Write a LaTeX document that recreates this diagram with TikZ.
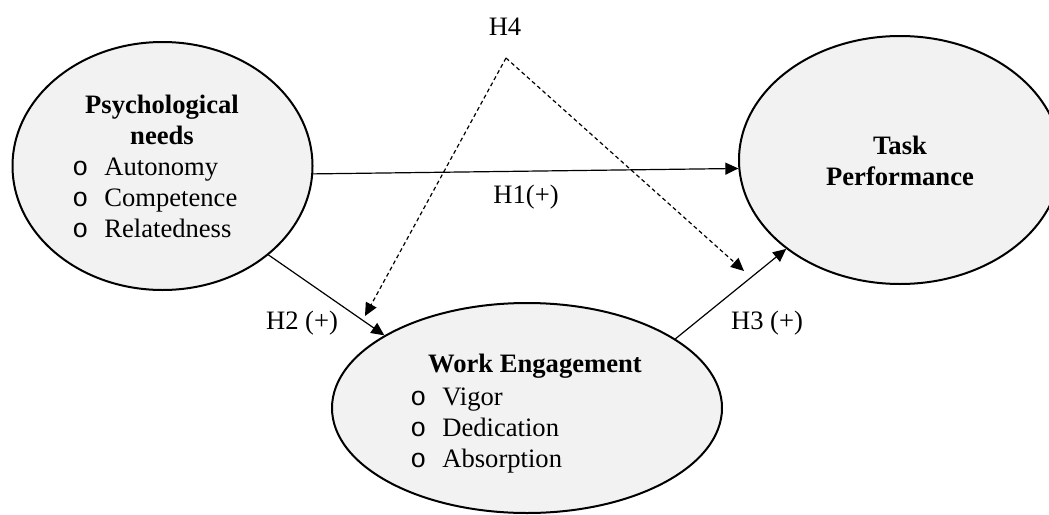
\documentclass[tikz,border=0pt]{standalone}
\usepackage{fontspec}
\setmainfont{Liberation Serif}
\newfontfamily\bulletfont{Liberation Mono}
\usepackage{tikz}
\usetikzlibrary{arrows.meta,shapes.geometric}

\definecolor{constructfill}{HTML}{F2F2F2}
\tikzset{
  construct/.style={ellipse,draw,line width=1pt,fill=constructfill,inner sep=0pt},
  effect/.style={line width=0.6pt,-{Triangle[length=6.5pt,width=6pt]}},
  moderation/.style={effect,dash pattern=on 2pt off 1.5pt},
  txt/.style={inner sep=0pt,font=\fontsize{13.3}{15.5}\selectfont},
  title/.style={txt,font=\fontsize{13.3}{15.5}\selectfont\bfseries,align=center},
  item/.style={txt,anchor=base west}
}

\begin{document}
\begin{tikzpicture}[x=0.5pt,y=-0.5pt]
\useasboundingbox (0,0) rectangle (1049,514);

% the constructs (sizes in pt, half the pixel size)
\node[construct,minimum width=150pt,minimum height=124pt] (psych) at (162.5,166) {};
\node[construct,minimum width=161pt,minimum height=124pt] (task) at (900,160) {};
\node[construct,minimum width=195pt,minimum height=105pt] (engage) at (527,408) {};

% construct texts
\node[title,anchor=north] (psychtitle) at (162,95) {Psychological\\needs};
\foreach \t [count=\i] in {Autonomy,Competence,Relatedness}
  \node[item] (psych\i) at (72,{144+31*\i}) {{\bulletfont o}\hspace{8pt}\t};

\node[title,anchor=north] (tasktitle) at (900,136) {Task\\Performance};

\node[title,anchor=base] (engagetitle) at (535,372) {Work Engagement};
\foreach \t [count=\i] in {Vigor,Dedication,Absorption}
  \node[item] (engage\i) at (410,{374+31*\i}) {{\bulletfont o}\hspace{8pt}\t};

% direct paths
\draw[effect] (psych.-3) -- (task.183);
\draw[effect] (psych.-40) -- (engage.153);
\draw[effect] (engage.25) -- (task.218);

% the moderation
\coordinate (h4top) at (506,58);
\coordinate (h4left) at (365,316);
\coordinate (h4right) at (744,271);
\draw[moderation] (h4top) -- (h4left);
\draw[moderation] (h4top) -- (h4right);

% hypothesis labels
\node[txt,anchor=base] (h4) at (505,35) {H4};
\node[txt,anchor=base] (h1) at (526,203) {H1(+)};
\node[txt,anchor=base] (h2) at (302,329.5) {H2 (+)};
\node[txt,anchor=base] (h3) at (767,329.5) {H3 (+)};
\end{tikzpicture}
\end{document}
